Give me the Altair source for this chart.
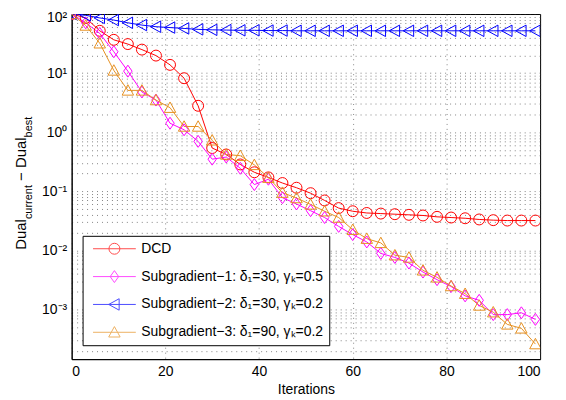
import altair as alt
import pandas as pd

# ---------------- data ----------------
iterations = [0, 3, 6, 9, 12, 15, 18, 21, 24, 27, 30, 33, 36, 39, 42, 45, 48,
              51, 54, 57, 60, 63, 66, 69, 72, 75, 78, 81, 84, 87, 90, 93, 96, 99]

dcd = [100, 86, 52, 36.6, 31, 25, 19.8, 13.8, 8.2, 2.8, 0.54, 0.42, 0.285, 0.21,
       0.172, 0.138, 0.115, 0.093, 0.07, 0.052, 0.046, 0.043, 0.042, 0.041, 0.040,
       0.039, 0.037, 0.036, 0.035, 0.0334, 0.0325, 0.032, 0.032, 0.032]

sub1 = [100, 71, 47, 23, 10.8, 4.8, 3.5, 1.42, 1.1, 0.70, 0.35, 0.38, 0.245, 0.13,
        0.16, 0.078, 0.061, 0.047, 0.036, 0.0255, 0.0185, 0.0139, 0.0089, 0.0076,
        0.0061, 0.0043, 0.0032, 0.00245, 0.0017, 0.00143, 0.00082, 0.00082,
        0.00088, 0.00068]

sub2 = [100, 95, 86, 79, 71, 65, 61, 59, 57, 55, 54, 53.5, 53, 53, 52.5, 52.5, 52,
        52, 52, 52, 52, 52, 52, 52, 52, 52, 52, 52, 52, 52, 52, 52, 52, 52]

sub3 = [100, 64, 32, 11.1, 5.1, 5.1, 3.5, 2.6, 1.25, 1.25, 0.73, 0.42, 0.40, 0.28,
        0.17, 0.095, 0.077, 0.06, 0.046, 0.036, 0.0224, 0.0158, 0.0134, 0.0083,
        0.0076, 0.0046, 0.0035, 0.0025, 0.00185, 0.00117, 0.0009, 0.00056,
        0.00048, 0.00026]

series_names = ["DCD",
                "Subgradient\u22121: \u03b4\u2081=30, \u03b3\u2096=0.5",
                "Subgradient\u22122: \u03b4\u2081=30, \u03b3\u2096=0.2",
                "Subgradient\u22123: \u03b4\u2081=90, \u03b3\u2096=0.2"]
series_values = [dcd, sub1, sub2, sub3]
colors = ["#ff0000", "#ff00ff", "#0000ff", "#e69020"]

x_ticks = [0, 20, 40, 60, 80, 100]
y_grid = [m * 10.0 ** e for e in range(-4, 2) for m in range(1, 10)] + [100.0]
y_min, y_max = 10 ** -3.84, 100.0
y_grid = [v for v in y_grid if y_min <= v <= y_max]

FONT = "Liberation Sans"

# marker shapes (custom SVG paths, unit size)
circle_p = "M-1.1,0A1.1,1.1,0,1,0,1.1,0A1.1,1.1,0,1,0,-1.1,0Z"
diamond_p = "M0,-1.2L0.85,0L0,1.2L-0.85,0Z"
tleft_p = "M-1.15,0L0.95,-1.15L0.95,1.15Z"
tup_p = "M0,-1.15L1.15,0.95L-1.15,0.95Z"
marker_paths = [circle_p, diamond_p, tleft_p, tup_p]
legend_paths = ["M-4.3,0L4.3,0" + p for p in marker_paths]

rows = []
for name, vals in zip(series_names, series_values):
    for it, v in zip(iterations, vals):
        rows.append({"iter": it, "value": v, "series": name})
df = pd.DataFrame(rows)

GRID_COLOR = "#333"
GRID_OPACITY = 0.6
GRID_DASH = [1, 4]

x_enc = alt.X("iter:Q",
              scale=alt.Scale(domain=[0, 100], nice=False, zero=False),
              axis=alt.Axis(values=x_ticks, title="Iterations", grid=True,
                            gridDash=GRID_DASH, gridColor=GRID_COLOR,
                            gridOpacity=GRID_OPACITY,
                            ticks=False, tickSize=0, labelPadding=5,
                            labelFontSize=14, titleFontSize=14,
                            titleFontWeight="normal", titlePadding=5,
                            domainColor="black", labelColor="black",
                            titleColor="black", labelFont=FONT, titleFont=FONT))

label_expr = ("abs(log(datum.value)/LN10 - round(log(datum.value)/LN10)) > 0.001 ? '' : "
              "(datum.value > 50 ? '10\u00b2' : datum.value > 5 ? '10\u00b9' : "
              "datum.value > 0.5 ? '10\u2070' : datum.value > 0.05 ? '10\u207b\u00b9' : "
              "datum.value > 0.005 ? '10\u207b\u00b2' : '10\u207b\u00b3')")

y_enc = alt.Y("value:Q",
              scale=alt.Scale(type="log", domain=[y_min, y_max], nice=False),
              axis=alt.Axis(values=y_grid, labelExpr=label_expr, title=None,
                            grid=True, gridDash=GRID_DASH, gridColor=GRID_COLOR,
                            gridOpacity=GRID_OPACITY, ticks=False, tickSize=0,
                            labelPadding=5, labelFontSize=14, labelFont=FONT,
                            labelColor="black", domainColor="black",
                            labelOverlap=False,
                            labelOffset={"condition": {"test": "datum.value > 50",
                                                       "value": 4},
                                         "value": 0}))

layers = []
for i, (name, col) in enumerate(zip(series_names, colors)):
    base = alt.Chart(df).transform_filter(alt.datum.series == name)
    ln = base.mark_line(strokeWidth=1, clip=True, color=col).encode(
        x=x_enc if i == 0 else alt.X("iter:Q"),
        y=y_enc if i == 0 else alt.Y("value:Q"),
        order=alt.Order("iter:Q"))
    layers.append(ln)
for name, col, path in zip(series_names, colors, marker_paths):
    pts = alt.Chart(df).transform_filter(
        alt.datum.series == name
    ).mark_point(shape=path, size=100, filled=False, strokeWidth=1, opacity=1,
                 clip=True, color=col).encode(
        x="iter:Q", y="value:Q")
    layers.append(pts)

legend_props = dict(title=None, orient="none", legendX=11, legendY=223,
                    strokeColor="black", fillColor="white", padding=6,
                    cornerRadius=0, symbolSize=100, symbolStrokeWidth=1,
                    symbolOffset=19, labelOffset=20, labelFont=FONT,
                    labelFontSize=14, labelColor="black", labelLimit=400,
                    rowPadding=12)

# legend carrier layer (its marks sit outside the clipped plot area)
legend_layer = alt.Chart(df).mark_point(
    filled=False, size=100, strokeWidth=1, clip=True).encode(
    x=alt.value(-2000), y=alt.value(-2000),
    color=alt.Color("series:N", scale=alt.Scale(domain=series_names, range=colors),
                    legend=alt.Legend(**legend_props)),
    shape=alt.Shape("series:N", scale=alt.Scale(domain=series_names, range=legend_paths),
                    legend=alt.Legend(**legend_props)))
layers.append(legend_layer)

# y-axis title with subscripts
dummy = pd.DataFrame({"k": [0]})
title_parts = [("Dual", 15, -46, 237.0),
               ("current", 11, -40, 206.2),
               ("\u2212 Dual", 15, -46, 167.8),
               ("best", 11, -40, 124.1)]
for txt, fs, xx, yy in title_parts:
    layers.append(alt.Chart(dummy).mark_text(
        angle=270, align="left", baseline="alphabetic", fontSize=fs,
        font=FONT, color="black").encode(
        x=alt.value(xx), y=alt.value(yy), text=alt.value(txt)))

chart = alt.layer(*layers).properties(
    width=471, height=347,
    autosize=alt.AutoSizeParams(type="none"),
    padding={"left": 64, "top": 5, "right": 18, "bottom": 36},
).configure_view(
    stroke="black", strokeWidth=1
)

chart.save("out.html", embed_options={"renderer": "svg", "actions": False})
